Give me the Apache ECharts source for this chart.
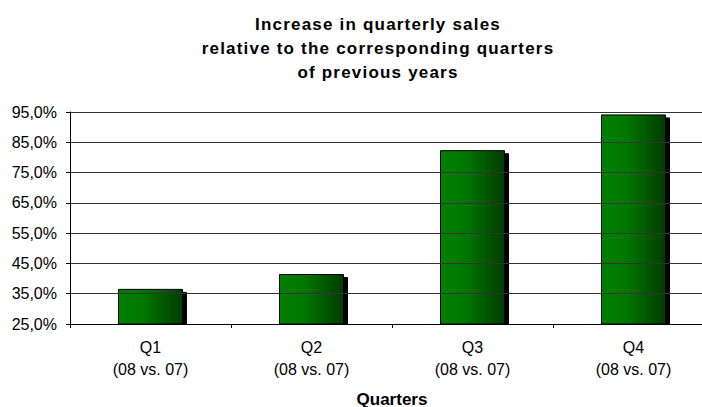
<!DOCTYPE html>
<html>
<head>
<meta charset="utf-8">
<script src="https://cdn.jsdelivr.net/npm/echarts@6/dist/echarts.min.js"></script>
<style>
html,body{margin:0;padding:0;background:#fff;}
#c{width:702px;height:407px;}
</style>
</head>
<body>
<div id="c"></div>
<script>
var categories = ['Q1', 'Q2', 'Q3', 'Q4'];
var subLabels = ['(08 vs. 07)', '(08 vs. 07)', '(08 vs. 07)', '(08 vs. 07)'];
var values = [36.6, 41.5, 82.4, 94.2];
var yMin = 25, yMax = 95, yStep = 10;
var titleLines = ['Increase in quarterly sales', 'relative to the corresponding quarters', 'of previous years'];
var xAxisName = 'Quarters';

var FONT = '"Liberation Sans", Arial, sans-serif';
var GRID_LEFT = 70;
var chart = echarts.init(document.getElementById('c'), null, {renderer: 'svg'});
var option = {
  animation: false,
  backgroundColor: '#fff',
  title: {
    text: titleLines.join('\n'),
    left: 373, top: 7, textAlign: 'center',
    textStyle: {fontFamily: FONT, fontSize: 17, fontWeight: 'bold', color: '#000', lineHeight: 24.3}
  },
  grid: {left: GRID_LEFT, top: 112, width: 644, height: 212, containLabel: false, outerBoundsMode: 'none'},
  xAxis: {
    type: 'category',
    data: categories,
    boundaryGap: true,
    z: 10,
    name: xAxisName,
    nameLocation: 'middle',
    nameGap: 68,
    nameTextStyle: {fontFamily: FONT, fontSize: 17, fontWeight: 'bold', color: '#000', lineHeight: 14},
    axisLine: {show: true, lineStyle: {color: '#000', width: 1}},
    axisTick: {show: true, alignWithLabel: false, length: 4, lineStyle: {color: '#000'}},
    axisLabel: {
      margin: 13,
      interval: 0,
      formatter: function (v, i) { return v + '\n' + subLabels[i]; },
      fontFamily: FONT, fontSize: 16, color: '#000', lineHeight: 21.7
    },
    splitLine: {show: false}
  },
  yAxis: {
    type: 'value',
    min: yMin, max: yMax, interval: yStep,
    z: 10,
    axisLine: {show: true, lineStyle: {color: '#000', width: 1}},
    axisTick: {show: true, length: 4, inside: false, lineStyle: {color: '#000'}},
    axisLabel: {
      margin: 13,
      formatter: function (v) { return v.toFixed(1).replace('.', ',') + '%'; },
      fontFamily: FONT, fontSize: 16, color: '#000'
    },
    splitLine: {show: true, lineStyle: {color: '#333', width: 1}}
  },
  series: [{
    type: 'bar',
    data: values,
    barWidth: 65,
    z: 2,
    itemStyle: {
      color: new echarts.graphic.LinearGradient(0, 0, 1, 0, [
        {offset: 0, color: '#008000'},
        {offset: 0.4, color: '#007600'},
        {offset: 1, color: '#003c00'}
      ]),
      borderColor: '#000',
      borderWidth: 1,
      shadowColor: '#000',
      shadowOffsetX: 4,
      shadowOffsetY: 3,
      shadowBlur: 0
    }
  }]
};
chart.setOption(option);

// hide the part of the bar shadows that falls below the category axis
var axisY = chart.convertToPixel({yAxisIndex: 0}, yMin);
chart.setOption({
  graphic: [{
    type: 'rect',
    z: 5,
    silent: true,
    shape: {x: GRID_LEFT + 0.5, y: axisY + 0.5, width: 702 - GRID_LEFT, height: 5},
    style: {fill: '#fff'}
  }]
});

function spaceTitle() {
  var texts = document.querySelectorAll('#c svg text');
  for (var i = 0; i < texts.length; i++) {
    var t = (texts[i].textContent || '').trim();
    if (titleLines.indexOf(t) >= 0) {
      texts[i].style.letterSpacing = '1.2px';
    }
  }
}
spaceTitle();
chart.on('finished', spaceTitle);
</script>
</body>
</html>
